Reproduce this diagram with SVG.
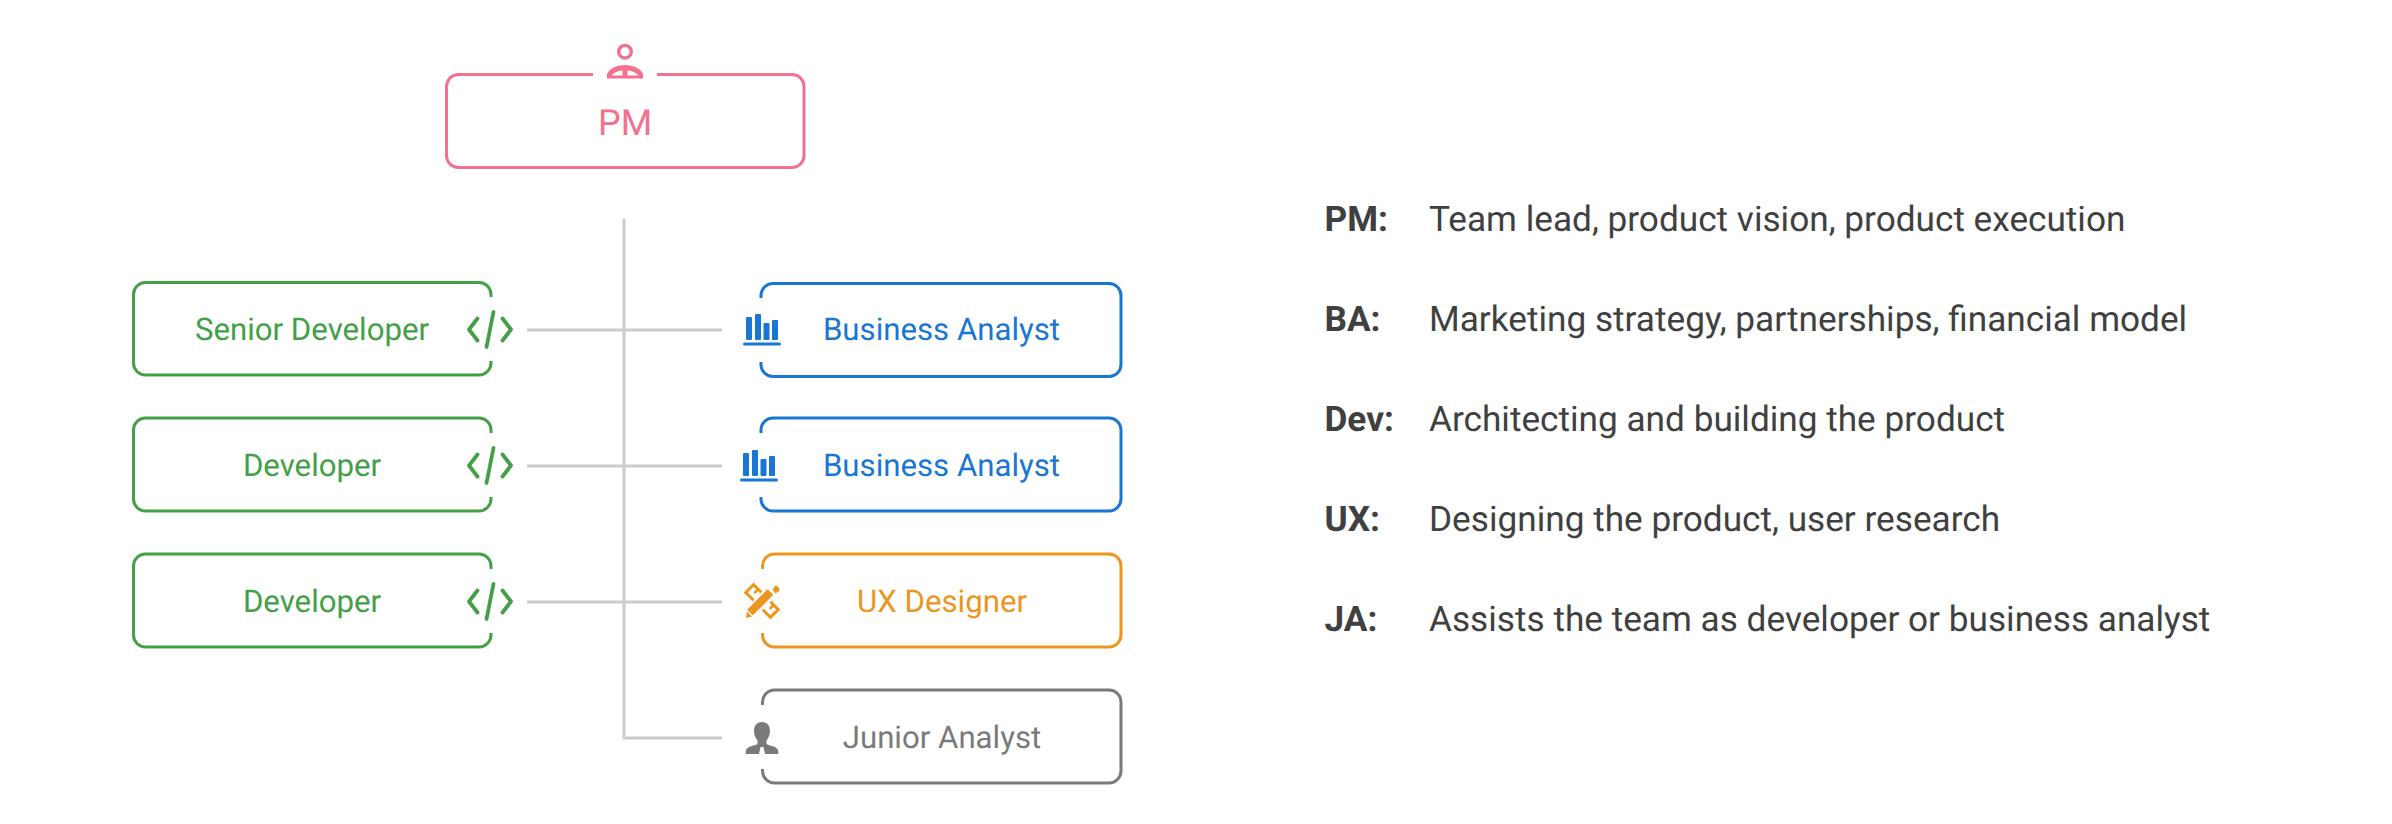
<svg xmlns="http://www.w3.org/2000/svg" width="2392" height="824" viewBox="0 0 2392 824">
<style>
text{font-family:Roboto,"Liberation Sans",sans-serif;text-rendering:geometricPrecision}
.box{fill:none;stroke-width:3;stroke-linecap:butt}
.lbl{font-size:31.200px;text-anchor:middle}
.b{font-size:35.200px;font-weight:700;fill:#404040}
.d{font-size:35.200px;fill:#404040}
.conn{fill:none;stroke:#ccc;stroke-width:3;stroke-linejoin:round}
.pm{stroke:#f2718f;fill:#f2718f}
.gr{stroke:#43a047;fill:#43a047}
.bl{stroke:#1976d2;fill:#1976d2}
.or{stroke:#ec961f;fill:#ec961f}
.gy{stroke:#7a7a7a;fill:#7a7a7a}
text.pm,text.gr,text.bl,text.or,text.gy{stroke:none}
.code{fill:none;stroke:#43a047;stroke-width:3.800;stroke-linecap:round;stroke-linejoin:round}
</style>
<defs>
<g id="code"><path class="code" d="M477.500 -11L469 0L477.500 11M493.500 -17.500L486.500 17.500M502.500 -11L511 0L502.500 11"/></g>
<g id="bars" fill="#1976d2"><rect x="746" y="317" width="6" height="23" rx="1"/><rect x="755" y="314" width="6" height="26" rx="1"/><rect x="763.500" y="323" width="6" height="17" rx="1"/><rect x="772" y="320" width="6" height="20" rx="1"/><rect x="743" y="342.500" width="38" height="3" rx="1.500"/></g>
</defs>
<g id="connectors">
<path class="conn" d="M624 219V738H722"/>
<path class="conn" d="M527 330H722M527 466H722M527 602H722"/>
</g>
<g id="node-pm">
<path class="box pm" style="fill:none" d="M593 74.500H458.500a12 12 0 0 0-12 12V155.500a12 12 0 0 0 12 12H792a12 12 0 0 0 12-12V86.500a12 12 0 0 0-12-12H657"/>
<circle cx="625" cy="51.700" r="6.300" fill="none" stroke="#f2718f" stroke-width="3.400"/>
<path fill="#f2718f" d="M607 78.500V74C609 69 616 65 625 65S641 69 643 74V78.500Z"/>
<path fill="#fff" d="M622.500 70.500V75.500H611.500C613.500 72.800 617 71 622.500 70.500ZM627.500 70.500C633 71 636.500 72.800 638.500 75.500H627.500Z"/>
<text class="lbl pm" x="625" y="135" style="font-size:36px">PM</text>
</g>
<g id="node-senior-dev">
<path class="box gr" style="fill:none" d="M491 297V294.500a12 12 0 0 0-12-12H145.500a12 12 0 0 0-12 12V363a12 12 0 0 0 12 12H479a12 12 0 0 0 12-12V361"/>
<use href="#code" y="329.500"/>
<text class="lbl gr" x="312" y="340">Senior Developer</text>
</g>
<g id="node-dev-1">
<path class="box gr" style="fill:none" d="M491 433V430a12 12 0 0 0-12-12H145.500a12 12 0 0 0-12 12V499a12 12 0 0 0 12 12H479a12 12 0 0 0 12-12V497"/>
<use href="#code" y="465.500"/>
<text class="lbl gr" x="312" y="476">Developer</text>
</g>
<g id="node-dev-2">
<path class="box gr" style="fill:none" d="M491 569V566a12 12 0 0 0-12-12H145.500a12 12 0 0 0-12 12V635a12 12 0 0 0 12 12H479a12 12 0 0 0 12-12V633"/>
<use href="#code" y="601.500"/>
<text class="lbl gr" x="312" y="612">Developer</text>
</g>
<g id="node-ba-1">
<path class="box bl" style="fill:none" d="M761 298V295.500a12 12 0 0 1 12-12H1109a12 12 0 0 1 12 12V364.500a12 12 0 0 1-12 12H773a12 12 0 0 1-12-12V362"/>
<use href="#bars"/>
<text class="lbl bl" x="941.500" y="340">Business Analyst</text>
</g>
<g id="node-ba-2">
<path class="box bl" style="fill:none" d="M761 433V430a12 12 0 0 1 12-12H1109a12 12 0 0 1 12 12V499a12 12 0 0 1-12 12H773a12 12 0 0 1-12-12V497"/>
<use href="#bars" x="-3" y="136"/>
<text class="lbl bl" x="941.500" y="476">Business Analyst</text>
</g>
<g id="node-ux">
<path class="box or" style="fill:none" d="M762.500 569V566a12 12 0 0 1 12-12H1109a12 12 0 0 1 12 12V635a12 12 0 0 1-12 12H774.500a12 12 0 0 1-12-12V633"/>
<g transform="rotate(45 762 601)"><rect x="744.500" y="595.500" width="35" height="11" fill="none" stroke="#ec961f" stroke-width="3"/><path d="M751 596V601M757 596V600M767 596V600M773 596V601" stroke="#ec961f" stroke-width="2.500" fill="none"/></g>
<path d="M749 614L772 591" stroke="#fff" stroke-width="13" fill="none"/>
<path d="M750 612.500L770.500 592" stroke="#ec961f" stroke-width="8" fill="none"/>
<path d="M746 618L747 611.500L752 616.500Z" fill="#ec961f"/>
<path d="M772.500 590L774.500 586.500Q776 585 778 587L779 588Q780.500 590 778.500 591.500L775.500 593.500Z" fill="#ec961f"/>
<text class="lbl or" x="942" y="612">UX Designer</text>
</g>
<g id="node-ja">
<path class="box gy" style="fill:none" d="M762.500 705V702a12 12 0 0 1 12-12H1109a12 12 0 0 1 12 12V771a12 12 0 0 1-12 12H774.500a12 12 0 0 1-12-12V769"/>
<path fill="#7a7a7a" d="M762 722C767.500 722 770 726 770 731C770 735 768.500 738 766.500 740.500V744C770 746 776 746 778 750L778.500 754H765L763.500 747H760.500L759 754H745.500L746 750C748 746 754 746 757.500 744V740.500C755.500 738 754 735 754 731C754 726 756.500 722 762 722Z"/>
<text class="lbl gy" x="942" y="748">Junior Analyst</text>
</g>
<g id="legend">
<text class="b" x="1324.500" y="231">PM:</text><text class="d" x="1429" y="231">Team lead, product vision, product execution</text>
<text class="b" x="1324.500" y="331">BA:</text><text class="d" x="1429" y="331">Marketing strategy, partnerships, financial model</text>
<text class="b" x="1324.500" y="431">Dev:</text><text class="d" x="1429" y="431">Architecting and building the product</text>
<text class="b" x="1324.500" y="531">UX:</text><text class="d" x="1429" y="531">Designing the product, user research</text>
<text class="b" x="1324.500" y="631">JA:</text><text class="d" x="1429" y="631">Assists the team as developer or business analyst</text>
</g>
</svg>
